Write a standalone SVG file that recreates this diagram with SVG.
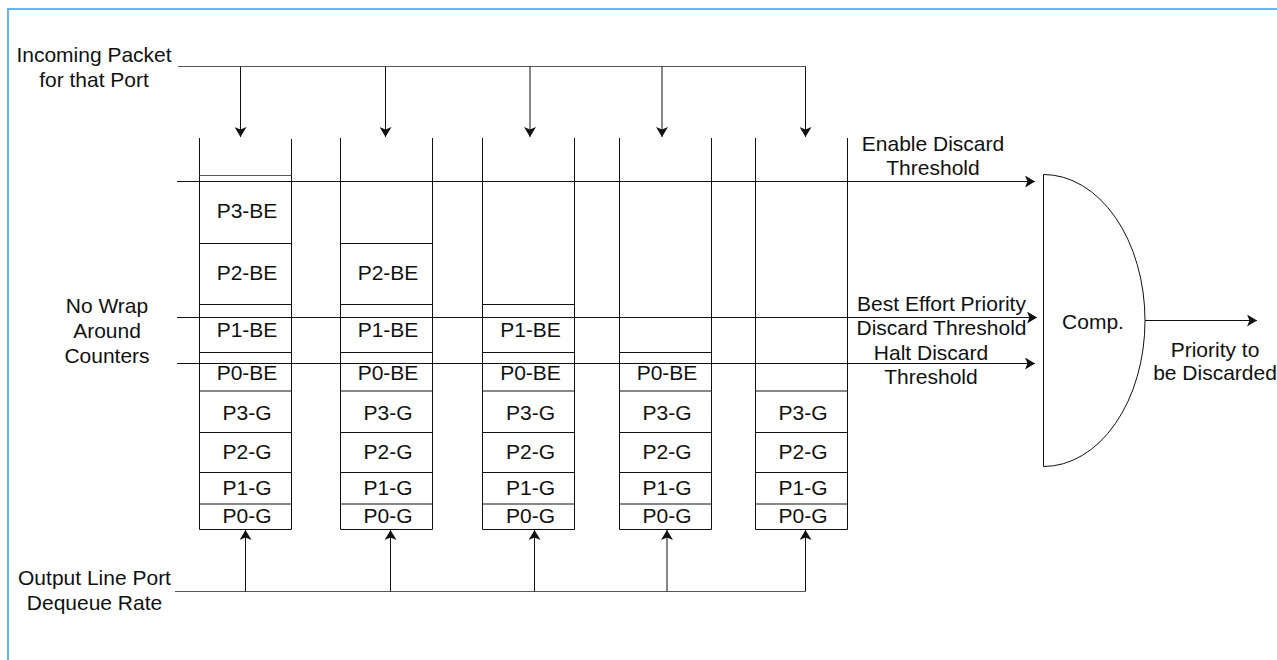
<svg xmlns="http://www.w3.org/2000/svg" width="1277" height="660" viewBox="0 0 1277 660">
<style>
.ln{stroke:#111;stroke-width:1;fill:none}
.lg{stroke:#555;stroke-width:1;fill:none}
.t{font-family:"Liberation Sans",Arial,sans-serif;font-size:21px;fill:#111;text-anchor:middle}
</style>
<defs>
<marker id="ah" viewBox="0 0 10 12" refX="10" refY="6" markerWidth="10" markerHeight="12" orient="auto" markerUnits="userSpaceOnUse">
<path d="M0,0 L10,6 L0,12 L2.5,6 Z" fill="#111"/>
</marker>
</defs>
<rect x="0" y="0" width="1277" height="660" fill="#fff"/>
<rect x="8" y="9" width="1300" height="700" fill="none" stroke="#64b5f6" stroke-width="2"/>

<g id="labels">
<text class="t" x="94" y="62">Incoming Packet</text>
<text class="t" x="94" y="86.5">for that Port</text>
<text class="t" x="107" y="312.5">No Wrap</text>
<text class="t" x="107" y="337.5">Around</text>
<text class="t" x="107" y="362.5">Counters</text>
<text class="t" x="94.5" y="585">Output Line Port</text>
<text class="t" x="94.5" y="609.5">Dequeue Rate</text>
<text class="t" x="933" y="150.5">Enable Discard</text>
<text class="t" x="933" y="175">Threshold</text>
<text class="t" x="941.5" y="310.5">Best Effort Priority</text>
<text class="t" x="941.5" y="335">Discard Threshold</text>
<text class="t" x="931" y="360">Halt Discard</text>
<text class="t" x="931" y="383.5">Threshold</text>
<text class="t" x="1215" y="356.5">Priority to</text>
<text class="t" x="1215" y="380">be Discarded</text>
</g>

<g id="col1">
<path class="ln" d="M199.5,138 V529.5 H291.5 V139"/>
<path class="lg" d="M199.5,175.5 H291.5"/>
<path class="ln" d="M199.5,243.5 H291.5 M199.5,304.5 H291.5 M199.5,352.5 H291.5 M199.5,391 H291.5 M199.5,432.5 H291.5 M199.5,472.5 H291.5 M199.5,504 H291.5"/>
<text class="t" x="247" y="218.3">P3-BE</text>
<text class="t" x="247" y="280">P2-BE</text>
<text class="t" x="247" y="337.3">P1-BE</text>
<text class="t" x="247" y="380">P0-BE</text>
<text class="t" x="247" y="420">P3-G</text>
<text class="t" x="247" y="459">P2-G</text>
<text class="t" x="247" y="495">P1-G</text>
<text class="t" x="247" y="523.3">P0-G</text>
</g>

<g id="col2">
<path class="ln" d="M340.5,138 V529.5 H432.5 V138"/>
<path class="ln" d="M340.5,243.5 H432.5 M340.5,304.5 H432.5 M340.5,352.5 H432.5 M340.5,391 H432.5 M340.5,432.5 H432.5 M340.5,472.5 H432.5 M340.5,504 H432.5"/>
<text class="t" x="388" y="280">P2-BE</text>
<text class="t" x="388" y="337.3">P1-BE</text>
<text class="t" x="388" y="380">P0-BE</text>
<text class="t" x="388" y="420">P3-G</text>
<text class="t" x="388" y="459">P2-G</text>
<text class="t" x="388" y="495">P1-G</text>
<text class="t" x="388" y="523.3">P0-G</text>
</g>

<g id="col3">
<path class="ln" d="M482.5,138 V529.5 H574.5 V138"/>
<path class="ln" d="M482.5,304.5 H574.5 M482.5,352.5 H574.5 M482.5,391 H574.5 M482.5,432.5 H574.5 M482.5,472.5 H574.5 M482.5,504 H574.5"/>
<text class="t" x="530.5" y="337.3">P1-BE</text>
<text class="t" x="530.5" y="380">P0-BE</text>
<text class="t" x="530.5" y="420">P3-G</text>
<text class="t" x="530.5" y="459">P2-G</text>
<text class="t" x="530.5" y="495">P1-G</text>
<text class="t" x="530.5" y="523.3">P0-G</text>
</g>

<g id="col4">
<path class="ln" d="M619.5,138 V529.5 H711.5 V138"/>
<path class="ln" d="M619.5,352.5 H711.5 M619.5,391 H711.5 M619.5,432.5 H711.5 M619.5,472.5 H711.5 M619.5,504 H711.5"/>
<text class="t" x="667" y="380">P0-BE</text>
<text class="t" x="667" y="420">P3-G</text>
<text class="t" x="667" y="459">P2-G</text>
<text class="t" x="667" y="495">P1-G</text>
<text class="t" x="667" y="523.3">P0-G</text>
</g>

<g id="col5">
<path class="ln" d="M755.5,138 V529.5 H847.5 V138"/>
<path class="ln" d="M755.5,391 H847.5 M755.5,432.5 H847.5 M755.5,472.5 H847.5 M755.5,504 H847.5"/>
<text class="t" x="803" y="420">P3-G</text>
<text class="t" x="803" y="459">P2-G</text>
<text class="t" x="803" y="495">P1-G</text>
<text class="t" x="803" y="523.3">P0-G</text>
</g>

<g id="comparator">
<path class="ln" d="M1043.5,174.5 A101.5,146 0 0 1 1043.5,466.5 Z"/>
<text class="t" x="1093" y="329">Comp.</text>
</g>

<g id="connectors">
<path class="lg" d="M178,66.5 H805.5"/>
<path class="ln" d="M240.5,66.5 V137" marker-end="url(#ah)"/>
<path class="ln" d="M385.5,66.5 V137" marker-end="url(#ah)"/>
<path class="ln" d="M530,66.5 V137" marker-end="url(#ah)"/>
<path class="ln" d="M662,66.5 V137" marker-end="url(#ah)"/>
<path class="ln" d="M805.5,66.5 V137" marker-end="url(#ah)"/>
<path class="ln" d="M177,181.5 H1035" marker-end="url(#ah)"/>
<path class="ln" d="M177,317.5 H1037" marker-end="url(#ah)"/>
<path class="ln" d="M177,363.5 H1035" marker-end="url(#ah)"/>
<path class="ln" d="M1145,320.5 H1257" marker-end="url(#ah)"/>
<path class="lg" d="M175,591.5 H805.5"/>
<path class="ln" d="M245.5,591.5 V530" marker-end="url(#ah)"/>
<path class="ln" d="M390.5,591.5 V530" marker-end="url(#ah)"/>
<path class="ln" d="M534.5,591.5 V530" marker-end="url(#ah)"/>
<path class="ln" d="M667,591.5 V530" marker-end="url(#ah)"/>
<path class="ln" d="M805.5,591.5 V530" marker-end="url(#ah)"/>
</g>
</svg>
